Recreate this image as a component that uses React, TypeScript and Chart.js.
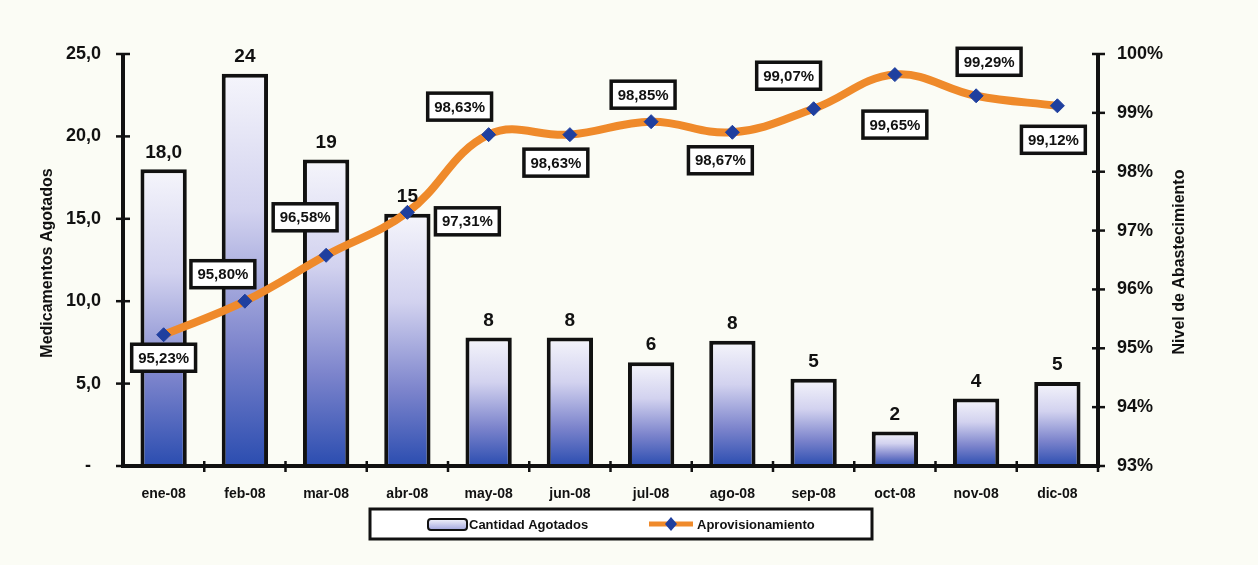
import React, { useEffect, useRef } from "react";
import { Chart, registerables } from "chart.js";

Chart.register(...registerables);

const FONT = '"Liberation Sans", Arial, sans-serif';

const categories = ["ene-08", "feb-08", "mar-08", "abr-08", "may-08", "jun-08", "jul-08", "ago-08", "sep-08", "oct-08", "nov-08", "dic-08"];
const agotados = [18.0, 23.8, 18.6, 15.3, 7.8, 7.8, 6.3, 7.6, 5.3, 2.1, 4.1, 5.1];
const agotadosLabels = ["18,0", "24", "19", "15", "8", "8", "6", "8", "5", "2", "4", "5"];
const aprovisionamiento = [95.23, 95.8, 96.58, 97.31, 98.63, 98.63, 98.85, 98.67, 99.07, 99.65, 99.29, 99.12];
const aprovisionamientoLabels = ["95,23%", "95,80%", "96,58%", "97,31%", "98,63%", "98,63%", "98,85%", "98,67%", "99,07%", "99,65%", "99,29%", "99,12%"];
const leftAxisTitle = "Medicamentos Agotados";
const rightAxisTitle = "Nivel de Abastecimiento";
const seriesNames = ["Cantidad Agotados", "Aprovisionamiento"];

// label box offsets (px) from each line point
const lineLabelOffsets: [number, number][] = [
  [0, 23], [-22, -27], [-21, -38], [60, 9], [-29, -28], [-14, 28],
  [-8, -27], [-12, 28], [-25, -33], [0, 50], [13, -34], [-4, 34],
];

const ORANGE = "#ef8a2b";
const BLUE = "#1f3f9f";

function barGradient(ctx: CanvasRenderingContext2D, top: number, base: number) {
  const g = ctx.createLinearGradient(0, top, 0, base);
  g.addColorStop(0, "#f5f5fb");
  g.addColorStop(0.35, "#d2d2ef");
  g.addColorStop(0.7, "#7c84cc");
  g.addColorStop(1, "#2b4db0");
  return g;
}

const decorPlugin = {
  id: "decor",
  beforeDraw(chart: any) {
    const { ctx, width, height } = chart;
    ctx.save();
    ctx.fillStyle = "#fbfcf5";
    ctx.fillRect(0, 0, width, height);
    ctx.restore();
  },
  afterDatasetsDraw(chart: any) {
    const { ctx, chartArea, scales } = chart;
    const { left, right, top, bottom } = chartArea;
    const line = (x1: number, y1: number, x2: number, y2: number) => {
      ctx.beginPath();
      ctx.moveTo(x1, y1);
      ctx.lineTo(x2, y2);
      ctx.stroke();
    };
    ctx.save();
    ctx.strokeStyle = "#111";
    ctx.lineWidth = 4;
    line(left, top - 1, left, bottom + 2);
    line(right, top - 1, right, bottom + 2);
    line(left, bottom, right, bottom);
    ctx.lineWidth = 2.5;
    scales.y.ticks.forEach((t: any) => {
      const py = scales.y.getPixelForValue(t.value);
      line(left - 7, py, left + 7, py);
    });
    scales.y1.ticks.forEach((t: any) => {
      const py = scales.y1.getPixelForValue(t.value);
      line(right - 6, py, right + 7, py);
    });
    const n = categories.length;
    for (let i = 1; i <= n; i++) {
      const px = left + (i * (right - left)) / n;
      line(px, bottom - 5, px, bottom + 6);
    }

    // bar value labels
    const barMeta = chart.getDatasetMeta(0);
    ctx.fillStyle = "#111";
    ctx.font = `bold 19px ${FONT}`;
    ctx.textAlign = "center";
    ctx.textBaseline = "middle";
    barMeta.data.forEach((el: any, i: number) => {
      ctx.fillText(agotadosLabels[i], el.x, el.y - 17);
    });

    // line value labels
    const lineMeta = chart.getDatasetMeta(1);
    ctx.font = `bold 15px ${FONT}`;
    lineMeta.data.forEach((el: any, i: number) => {
      const [dx, dy] = lineLabelOffsets[i];
      const cx = el.x + dx;
      const cy = el.y + dy;
      const txt = aprovisionamientoLabels[i];
      const w = ctx.measureText(txt).width + 13;
      const h = 27;
      ctx.fillStyle = "#ffffff";
      ctx.fillRect(cx - w / 2, cy - h / 2, w, h);
      ctx.strokeStyle = "#111";
      ctx.lineWidth = 3.5;
      ctx.strokeRect(cx - w / 2, cy - h / 2, w, h);
      ctx.fillStyle = "#111";
      ctx.fillText(txt, cx, cy + 1);
    });
    ctx.restore();
  },
  afterDraw(chart: any) {
    const { ctx, chartArea } = chart;
    const midY = (chartArea.top + chartArea.bottom) / 2;
    ctx.save();
    ctx.fillStyle = "#111";
    ctx.font = `bold 16px ${FONT}`;
    ctx.textAlign = "center";
    ctx.textBaseline = "middle";
    ctx.save();
    ctx.translate(48, midY + 3);
    ctx.rotate(-Math.PI / 2);
    ctx.fillText(leftAxisTitle, 0, 0);
    ctx.restore();
    ctx.save();
    ctx.translate(1180, midY + 2);
    ctx.rotate(-Math.PI / 2);
    ctx.fillText(rightAxisTitle, 0, 0);
    ctx.restore();

    // legend
    const lx = 370, ly = 509, lw = 502, lh = 30;
    ctx.fillStyle = "#ffffff";
    ctx.fillRect(lx, ly, lw, lh);
    ctx.strokeStyle = "#111";
    ctx.lineWidth = 3;
    ctx.strokeRect(lx, ly, lw, lh);
    // bar swatch
    const sg = ctx.createLinearGradient(0, 519, 0, 531);
    sg.addColorStop(0, "#f4f4fb");
    sg.addColorStop(1, "#9a9edb");
    ctx.fillStyle = sg;
    ctx.beginPath();
    ctx.roundRect(428, 519, 39, 11, 3);
    ctx.fill();
    ctx.lineWidth = 2;
    ctx.stroke();
    ctx.fillStyle = "#111";
    ctx.font = `bold 13px ${FONT}`;
    ctx.textAlign = "left";
    ctx.fillText(seriesNames[0], 469, 525);
    // line swatch
    ctx.strokeStyle = ORANGE;
    ctx.lineWidth = 5;
    ctx.beginPath();
    ctx.moveTo(649, 524);
    ctx.lineTo(693, 524);
    ctx.stroke();
    ctx.fillStyle = BLUE;
    ctx.beginPath();
    ctx.moveTo(671, 517);
    ctx.lineTo(677, 524);
    ctx.lineTo(671, 531);
    ctx.lineTo(665, 524);
    ctx.closePath();
    ctx.fill();
    ctx.fillStyle = "#111";
    ctx.fillText(seriesNames[1], 697, 525);
    ctx.restore();
  },
};

export default function App() {
  const ref = useRef<HTMLCanvasElement | null>(null);
  useEffect(() => {
    if (!ref.current) return;
    Chart.defaults.font.family = FONT;
    const chart = new Chart(ref.current, {
      type: "bar",
      data: {
        labels: categories,
        datasets: [
          {
            type: "bar",
            label: seriesNames[0],
            data: agotados,
            yAxisID: "y",
            order: 1,
            backgroundColor: (c: any) => {
              const ch = c.chart;
              if (!ch.chartArea || c.type !== "data") return "#9aa0d8";
              const ys = ch.scales.y;
              const top = ys.getPixelForValue(c.raw);
              const base = ys.getPixelForValue(0);
              return barGradient(ch.ctx, top, base);
            },
            borderColor: "#111",
            borderWidth: 4,
            borderSkipped: "bottom",
            barPercentage: 0.57,
            categoryPercentage: 1,
          },
          {
            type: "line",
            label: seriesNames[1],
            data: aprovisionamiento,
            yAxisID: "y1",
            order: 0,
            borderColor: ORANGE,
            borderWidth: 8,
            tension: 0.4,
            pointStyle: "rectRot",
            pointRadius: 7,
            pointBackgroundColor: BLUE,
            pointBorderColor: BLUE,
            pointBorderWidth: 1,
          },
        ],
      },
      options: {
        responsive: false,
        animation: false,
        layout: { padding: { top: 54, left: 0, right: 0, bottom: 0 } },
        plugins: { legend: { display: false }, tooltip: { enabled: false } },
        scales: {
          x: {
            offset: true,
            grid: { display: false, drawTicks: false },
            border: { display: false },
            ticks: { font: { size: 14, weight: "bold" }, color: "#111", padding: 20, maxRotation: 0 },
            afterFit: (s: any) => { s.height = 99; },
          },
          y: {
            position: "left",
            min: 0,
            max: 25,
            grid: { display: false, drawTicks: false },
            border: { display: false },
            ticks: {
              stepSize: 5,
              padding: 22,
              color: "#111",
              font: { size: 18, weight: "bold" },
              callback: (v: any) => (Number(v) === 0 ? "-  " : Number(v).toFixed(1).replace(".", ",")),
            },
            afterFit: (s: any) => { s.width = 123; },
          },
          y1: {
            position: "right",
            min: 93,
            max: 100,
            grid: { display: false, drawTicks: false },
            border: { display: false },
            ticks: {
              stepSize: 1,
              padding: 19,
              color: "#111",
              font: { size: 18, weight: "bold" },
              callback: (v: any) => `${v}%`,
            },
            afterFit: (s: any) => { s.width = 160; },
          },
        },
      },
      plugins: [decorPlugin],
    } as any);
    return () => chart.destroy();
  }, []);
  return (
    <div style={{ position: "absolute", left: 0, top: 0, width: 1258, height: 565 }}>
      <canvas ref={ref} width={1258} height={565} style={{ display: "block" }} />
    </div>
  );
}
